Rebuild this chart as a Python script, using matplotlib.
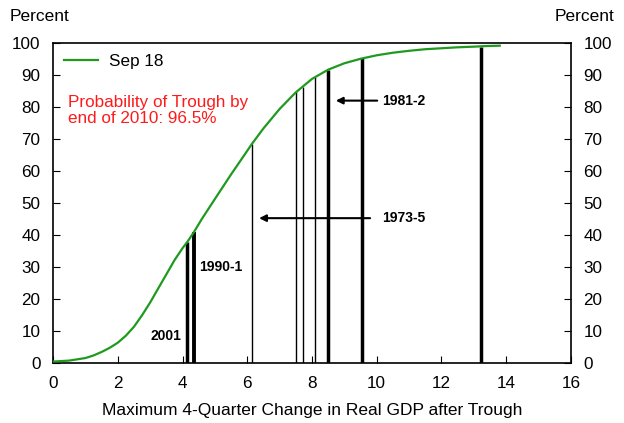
import matplotlib.pyplot as plt

plt.rcParams['font.family'] = ['Liberation Sans', 'DejaVu Sans']

# cumulative probability curve (Sep 18)
curve_x = [0, 0.5, 1.0, 1.25, 1.5, 1.75, 2.0, 2.25, 2.5, 2.75, 3.0, 3.25, 3.5, 3.75,
           4.0, 4.15, 4.35, 4.6, 5.0, 5.5, 6.0, 6.14, 6.5, 7.0, 7.5, 8.0, 8.5, 9.0,
           9.5, 10.0, 10.5, 11.0, 11.5, 12.0, 12.5, 13.0, 13.4, 13.8]
curve_y = [0.3, 0.6, 1.4, 2.2, 3.3, 4.6, 6.2, 8.4, 11.2, 14.8, 18.8, 23.2, 27.6, 32.0,
           35.8, 37.8, 40.8, 45.0, 51.2, 58.9, 66.3, 68.4, 73.3, 79.4, 84.6, 88.8, 91.7, 93.7,
           95.1, 96.2, 97.0, 97.6, 98.1, 98.4, 98.7, 98.9, 99.1, 99.2]

# past recoveries: max 4-quarter GDP change after trough, and curve height
rec_x = [4.14, 4.35, 6.14, 7.52, 7.71, 8.1, 8.5, 9.55, 13.22]
rec_y = [37.6, 40.8, 68.4, 84.9, 86.4, 89.4, 91.7, 95.3, 98.9]
rec_lw = [2.5, 2.8, 1, 1, 1, 1, 2.5, 2.5, 2.5]

fig = plt.figure(figsize=(6.24, 4.23), dpi=100)
ax = fig.add_axes([0.085, 0.143, 0.830, 0.755])

for x, y, lw in zip(rec_x, rec_y, rec_lw):
    ax.plot([x, x], [0, y], color='black', lw=lw, solid_capstyle='butt', zorder=2)

ax.plot(curve_x, curve_y, color='#1f9a1f', lw=1.6, label='Sep 18', zorder=3)

# arrows and labels
ax.annotate('', xy=(8.65, 82), xytext=(10.1, 82),
            arrowprops=dict(arrowstyle='-|>', color='black', lw=1.5, mutation_scale=10))
ax.text(10.18, 82, '1981-2', fontsize=10, fontweight='bold', va='center', ha='left')
ax.annotate('', xy=(6.28, 45.2), xytext=(9.88, 45.2),
            arrowprops=dict(arrowstyle='-|>', color='black', lw=1.5, mutation_scale=10))
ax.text(10.18, 45.2, '1973-5', fontsize=10, fontweight='bold', va='center', ha='left')
ax.text(3.98, 8.3, '2001', fontsize=10, fontweight='bold', va='center', ha='right')
ax.text(4.5, 30, '1990-1', fontsize=10, fontweight='bold', va='center', ha='left')

ax.text(0.45, 79, 'Probability of Trough by\nend of 2010: 96.5%', color='#ff1a1a',
        fontsize=12.3, va='center', ha='left', linespacing=1.05)

ax.set_xlim(0, 16)
ax.set_ylim(0, 100)
ax.set_xticks(range(0, 17, 2))
ax.set_yticks(range(0, 101, 10))
ax.tick_params(direction='in', labelsize=12.3, length=5, right=True, labelright=True)
ax.tick_params(axis='y', pad=9)
ax.tick_params(axis='x', pad=10)
ax.set_xlabel('Maximum 4-Quarter Change in Real GDP after Trough', fontsize=12.5, labelpad=8)
for s in ax.spines.values():
    s.set_linewidth(1.2)

ax.legend(loc='upper left', frameon=False, fontsize=12.3, handlelength=2.0,
          handletextpad=0.6, borderaxespad=0.25, bbox_to_anchor=(0.0, 1.0))

fig.text(0.016, 0.96, 'Percent', fontsize=12.5, va='center', ha='left')
fig.text(0.984, 0.96, 'Percent', fontsize=12.5, va='center', ha='right')

fig.savefig('out.png', dpi=100)
